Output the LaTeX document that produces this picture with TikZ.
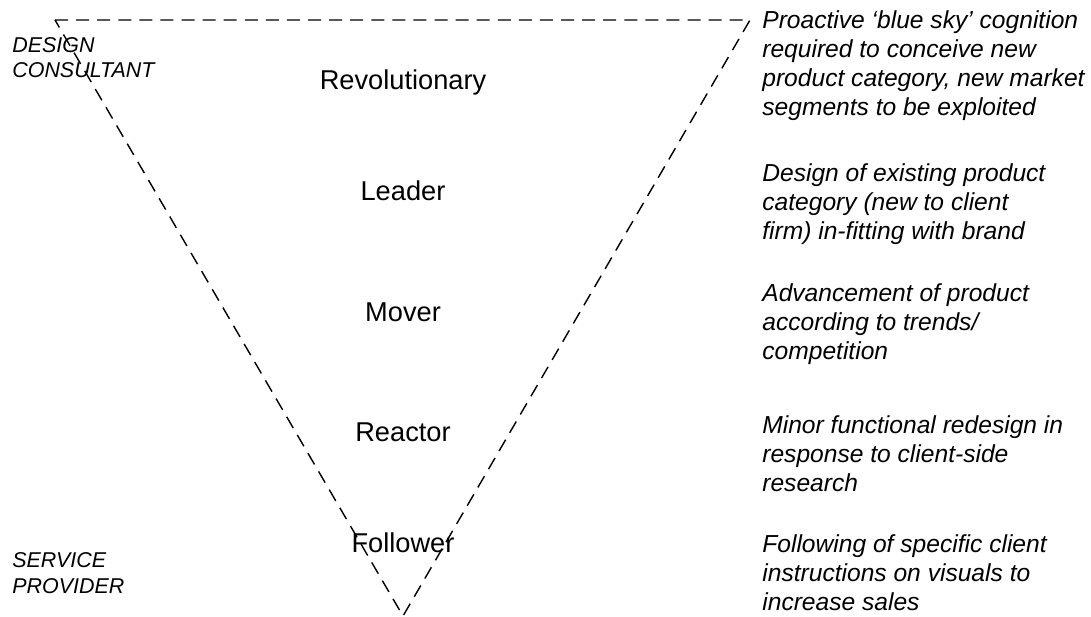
\documentclass[tikz,border=0pt]{standalone}
\usepackage{fontspec}
\setmainfont{Liberation Sans}
\usetikzlibrary{calc}
\tikzset{
	level/.style={anchor=base, inner sep=0pt, font=\fontsize{15.5}{18}\selectfont},
	side/.style={anchor=base west, inner sep=0pt, align=left, font=\fontsize{12.2}{14.5}\selectfont\itshape},
	note/.style={anchor=base west, inner sep=0pt, align=left, font=\fontsize{14}{16.5}\selectfont\itshape},
	funnel/.style={line width=0.8pt, dash pattern=on 7.4pt off 4.6pt}
}

\begin{document}
\begin{tikzpicture}[x=0.02cm, y=-0.02cm]
		%%%%% START %%%%%
		\useasboundingbox (0, 0) rectangle (1091, 616);
		
		\coordinate (tl) at (55, 20);
		\coordinate (tr) at (750, 20);
		\coordinate (apex) at (403, 616);
		\draw[funnel] (tl) -- (tr) -- (apex) -- cycle;
		
		% base anchor sits on the last line
		\node[side] (consultant) at (12, 77.5) {DESIGN\\CONSULTANT};
		\node[side] (provider) at (12, 593) {SERVICE\\PROVIDER};
		
		\node[level] (revolutionary) at (403, 89) {Revolutionary};
		\node[level] (leader) at (403, 200) {Leader};
		\node[level] (mover) at (403, 321) {Mover};
		\node[level] (reactor) at (403, 441) {Reactor};
		\node[level] (follower) at (403, 552) {Follower};
		
		\node[note] (proactive) at (762, 115) {Proactive `blue sky' cognition\\required to conceive new\\product category, new market\\segments to be exploited};
		\node[note] (design) at (762, 239) {Design of existing product\\category (new to client\\firm) in-fitting with brand};
		\node[note] (advance) at (762, 359) {Advancement of product\\according to trends/\\competition};
		\node[note] (minor) at (762, 491) {Minor functional redesign in\\response to client-side\\research};
		\node[note] (following) at (762, 610) {Following of specific client\\instructions on visuals to\\increase sales};
		%%%%% END %%%%%
	\end{tikzpicture}
\end{document}
